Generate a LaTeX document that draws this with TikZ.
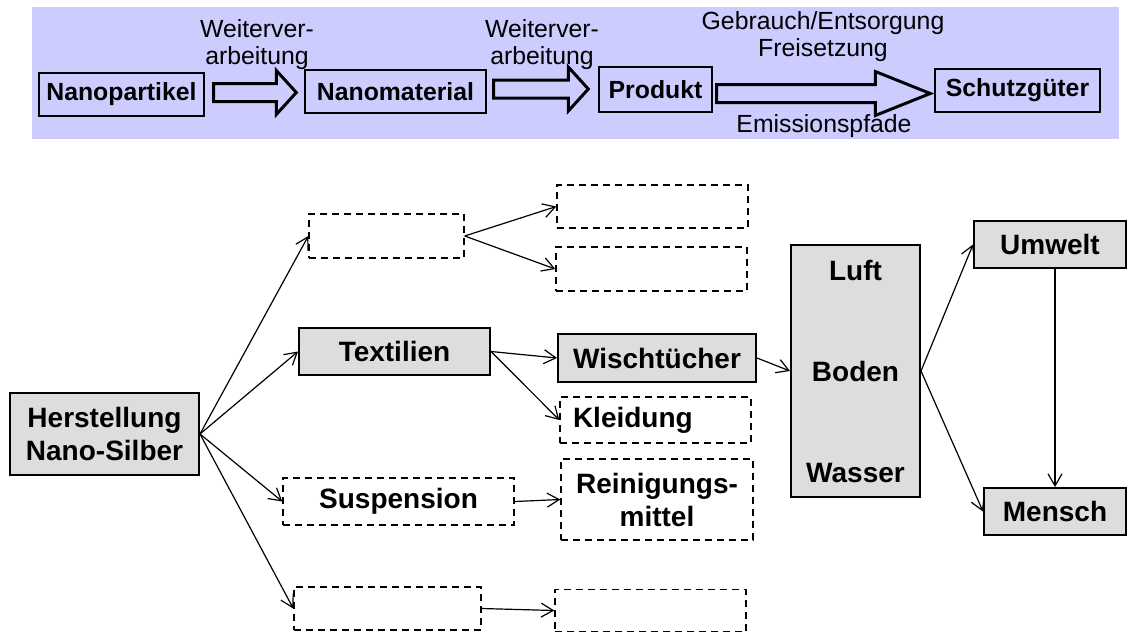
\documentclass[tikz,border=0pt]{standalone}
\usepackage{fontspec}
\setmainfont{Liberation Sans}
\usetikzlibrary{arrows.meta,calc}

\definecolor{bandblue}{HTML}{CCCCFF}
\definecolor{boxgray}{HTML}{DDDDDD}

\tikzset{
  topbox/.style={draw, line width=0.7pt, inner sep=0pt, font=\fontsize{12.4}{14}\selectfont\bfseries},
  flowbox/.style={draw, line width=1pt, fill=boxgray, inner sep=0pt, align=center, font=\fontsize{14}{16.5}\selectfont\bfseries},
  openbox/.style={flowbox, fill=white, line width=0.7pt, dash pattern=on 3.5pt off 2.5pt},
  toplabel/.style={align=center, font=\fontsize{12.4}{13.5}\selectfont},
  blockarr/.style={draw, line width=1.5pt, line join=miter},
}

\newcommand\blockarrow[5]{%
  \draw[blockarr] let \p1=(#1), \p2=(#2) in
    (\x1,\y1+#4) -- (\x2-#3,\y1+#4) -- (\x2-#3,\y1+#5) -- (\x2,\y1)
    -- (\x2-#3,\y1-#5) -- (\x2-#3,\y1-#4) -- (\x1,\y1-#4) -- cycle;}

\begin{document}
\begin{tikzpicture}[x=0.5pt,y=-0.5pt]
\useasboundingbox (0,0) rectangle (1128,633);

\fill[bandblue] (32,7) rectangle (1119,139);

\begin{scope}[every node/.style={topbox}]
	\node[minimum width=82.5pt, minimum height=21.5pt] (npart) at (121.5,94.5) {Nanopartikel};
	\node[minimum width=90.5pt, minimum height=21.5pt] (nmat) at (395.5,91.5) {Nanomaterial};
	\node[minimum width=56.5pt, minimum height=22.5pt] (prod) at (655.5,89.5) {Produkt};
	\node[minimum width=82.5pt, minimum height=21.5pt] (schutz) at (1017.5,90.5) {Schutzgüter};
\end{scope}

\blockarrow{$(npart.east)+(9,-2)$}{$(nmat.west)+(-8,0)$}{10pt}{4.5pt}{11pt}
\blockarrow{$(nmat.east)+(7,-2.5)$}{$(prod.west)+(-10,0)$}{10pt}{4.5pt}{11pt}
\blockarrow{$(prod.east)+(4,4)$}{$(schutz.west)+(-4,0)$}{27.5pt}{4.5pt}{11pt}

\begin{scope}[every node/.style={toplabel}]
	\node (lbla) at (257,45) {Weiterver-\\arbeitung};
	\node (lblb) at (542,45) {Weiterver-\\arbeitung};
	\node (lblc) at (823,37) {Gebrauch/Entsorgung\\Freisetzung};
	\node (lbld) at (824,126) {Emissionspfade};
\end{scope}

\node[flowbox, minimum width=94.5pt, minimum height=41pt] (herst) at (104.5,434) {Herstellung\\Nano-Silber};

\node[openbox, minimum width=77.5pt, minimum height=22pt] (emptya) at (386.5,236) {};
\node[flowbox, minimum width=95.5pt, minimum height=23.5pt] (textil) at (394.5,351.5) {Textilien};
\node[openbox, minimum width=115.5pt, minimum height=23.5pt] (susp) at (398.5,501.5) {Suspension};
\node[openbox, minimum width=93.5pt, minimum height=21.5pt] (emptyb) at (387.5,608.5) {};

\node[openbox, minimum width=95.5pt, minimum height=21.5pt] (emptyc) at (652.5,206.5) {};
\node[openbox, minimum width=95.5pt, minimum height=22pt] (emptyd) at (651.5,269) {};
\node[flowbox, minimum width=99pt, minimum height=24pt] (wisch) at (657,358) {Wischtücher};
\node[openbox, minimum width=95.5pt, minimum height=23pt, text width=82.5pt, align=left] (kleid) at (655.5,420) {Kleidung};
\node[openbox, minimum width=96pt, minimum height=40.5pt] (reinig) at (657,499.5) {Reinigungs-\\mittel};
\node[openbox, minimum width=95.5pt, minimum height=21pt] (emptye) at (650.5,610.5) {};

\node[flowbox, minimum width=64.5pt, minimum height=126pt] (medien) at (855.5,371) {Luft\\[34pt]Boden\\[34pt]Wasser};

\node[flowbox, minimum width=76pt, minimum height=23.5pt] (umwelt) at (1050,244.5) {Umwelt};
\node[flowbox, minimum width=71pt, minimum height=23.5pt] (mensch) at (1055,511.5) {Mensch};

\begin{scope}[>={Straight Barb[length=6pt,width=7pt]}, every edge/.style={draw=black,line width=0.6pt}]
	\path [->] (herst.east) edge (emptya.west);
	\path [->] (herst.east) edge (textil.west);
	\path [->] (herst.east) edge (susp.west);
	\path [->] (herst.east) edge (emptyb.west);
	\path [->] (emptya.east) edge (emptyc.west);
	\path [->] (emptya.east) edge (emptyd.west);
	\path [->] (textil.east) edge (wisch.west);
	\path [->] (textil.east) edge (kleid.west);
	\path [->] (susp.east) edge (reinig.west);
	\path [->] (emptyb.east) edge (emptye.west);
	\path [->] (wisch.east) edge (medien.west);
	\path [->] (medien.east) edge (umwelt.west);
	\path [->] (medien.east) edge (mensch.west);
	\path [->] (mensch.north |- umwelt.south) edge (mensch.north);
\end{scope}

\end{tikzpicture}
\end{document}
